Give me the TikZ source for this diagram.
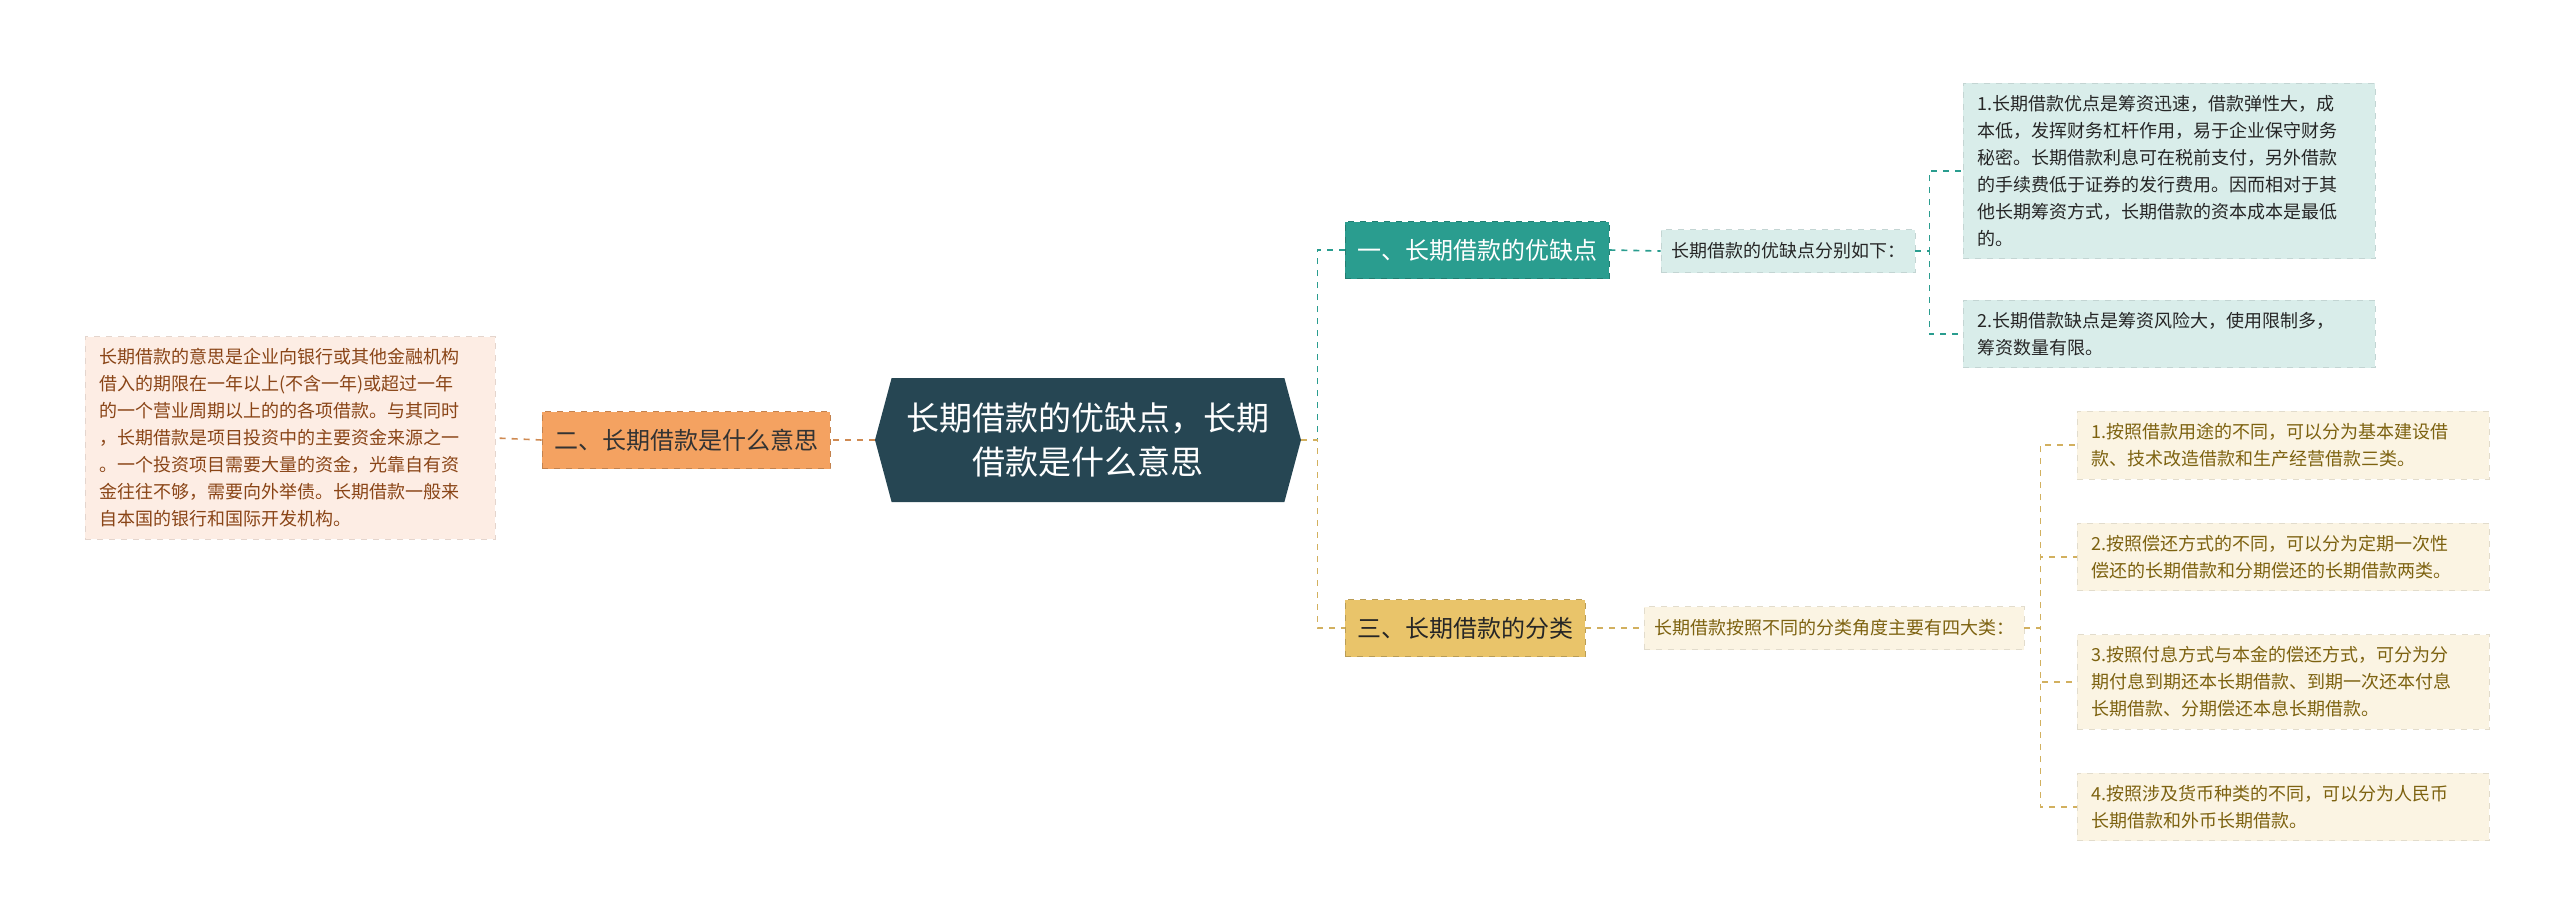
\documentclass[tikz,border=0pt]{standalone}
\usepackage{fontspec}
\setmainfont{Noto Sans CJK SC}
\usetikzlibrary{shapes.symbols}
\definecolor{rootc}{HTML}{264653}
\definecolor{teal}{HTML}{2A9D8F}
\definecolor{teallt}{HTML}{D9EDEA}
\definecolor{orng}{HTML}{F4A261}
\definecolor{orngl}{HTML}{FDEDE4}
\definecolor{orngt}{HTML}{8A4517}
\definecolor{gold}{HTML}{E9C46A}
\definecolor{goldl}{HTML}{FBF4E3}
\definecolor{goldt}{HTML}{7D6210}
\tikzset{
  branch/.style={draw=#1!80!black,dashed,fill=#1,minimum height=28.5pt,inner xsep=6pt,font=\fontsize{12}{14}\selectfont},
  sub/.style={fill=#1,draw=#1!90!black,dashed,minimum height=21.5pt,inner xsep=5pt,font=\fontsize{9}{11}\selectfont},
  leaf/.style={fill=#1,draw=#1!90!black,dashed,text width=192pt,align=left,inner xsep=7pt,inner ysep=6pt,font=\fontsize{9}{13.5}\selectfont},
  link/.style={#1,dashed,line width=0.8pt}
}
\begin{document}
\begin{tikzpicture}[x=0.5pt,y=-0.5pt]
	\useasboundingbox (0,0) rectangle (2560,922);
	\node[signal,signal to=east and west,signal pointer angle=150,fill=rootc,text=white,minimum width=213pt,minimum height=62pt,align=center,font=\fontsize{16.5}{22}\selectfont] (root) at (1088,440) {长期借款的优缺点，长期\\借款是什么意思};

	\node[branch=orng,text=black!80] (why) at (686,440) {二、长期借款是什么意思};
	\node[leaf=orngl,text=orngt,text width=191pt] (whytxt) at (290,438) {长期借款的意思是企业向银行或其他金融机构\\借入的期限在一年以上(不含一年)或超过一年\\的一个营业周期以上的的各项借款。与其同时\\，长期借款是项目投资中的主要资金来源之一\\。一个投资项目需要大量的资金，光靠自有资\\金往往不够，需要向外举债。长期借款一般来\\自本国的银行和国际开发机构。};

	\node[branch=teal,text=white] (pros) at (1477,250) {一、长期借款的优缺点};
	\node[sub=teallt,text=black!85] (prossub) at (1788,251) {长期借款的优缺点分别如下：};
	\node[leaf=teallt,text=black!85] (pro1) at (2169,171) {1.长期借款优点是筹资迅速，借款弹性大，成\\本低，发挥财务杠杆作用，易于企业保守财务\\秘密。长期借款利息可在税前支付，另外借款\\的手续费低于证券的发行费用。因而相对于其\\他长期筹资方式，长期借款的资本成本是最低\\的。};
	\node[leaf=teallt,text=black!85] (pro2) at (2169,334) {2.长期借款缺点是筹资风险大，使用限制多，\\筹资数量有限。};

	\node[branch=gold,text=black!85] (kinds) at (1465,628) {三、长期借款的分类};
	\node[sub=goldl,text=goldt] (kindsub) at (1834,628) {长期借款按照不同的分类角度主要有四大类：};
	\node[leaf=goldl,text=goldt] (k1) at (2283,445) {1.按照借款用途的不同，可以分为基本建设借\\款、技术改造借款和生产经营借款三类。};
	\node[leaf=goldl,text=goldt] (k2) at (2283,557) {2.按照偿还方式的不同，可以分为定期一次性\\偿还的长期借款和分期偿还的长期借款两类。};
	\node[leaf=goldl,text=goldt] (k3) at (2283,682) {3.按照付息方式与本金的偿还方式，可分为分\\期付息到期还本长期借款、到期一次还本付息\\长期借款、分期偿还本息长期借款。};
	\node[leaf=goldl,text=goldt] (k4) at (2283,807) {4.按照涉及货币种类的不同，可以分为人民币\\长期借款和外币长期借款。};

	% connectors
	\draw[link=orng!85!black] (root.west) -- (why.east);
	\draw[link=orng!85!black] (why.west) -- (whytxt.east);
	\draw[link=teal] (root.east) -- ++(16,0) |- (pros.west);
	\draw[link=gold!90!black] (root.east) -- ++(16,0) |- (kinds.west);
	\draw[link=teal] (pros.east) -- (prossub.west);
	\draw[link=gold!90!black] (kinds.east) -- (kindsub.west);
	\foreach \n in {pro1,pro2}
		\draw[link=teal] (prossub.east) -- ++(14,0) |- (\n.west);
	\foreach \n in {k1,k2,k3,k4}
		\draw[link=gold!90!black] (kindsub.east) -- ++(16,0) |- (\n.west);
\end{tikzpicture}
\end{document}
